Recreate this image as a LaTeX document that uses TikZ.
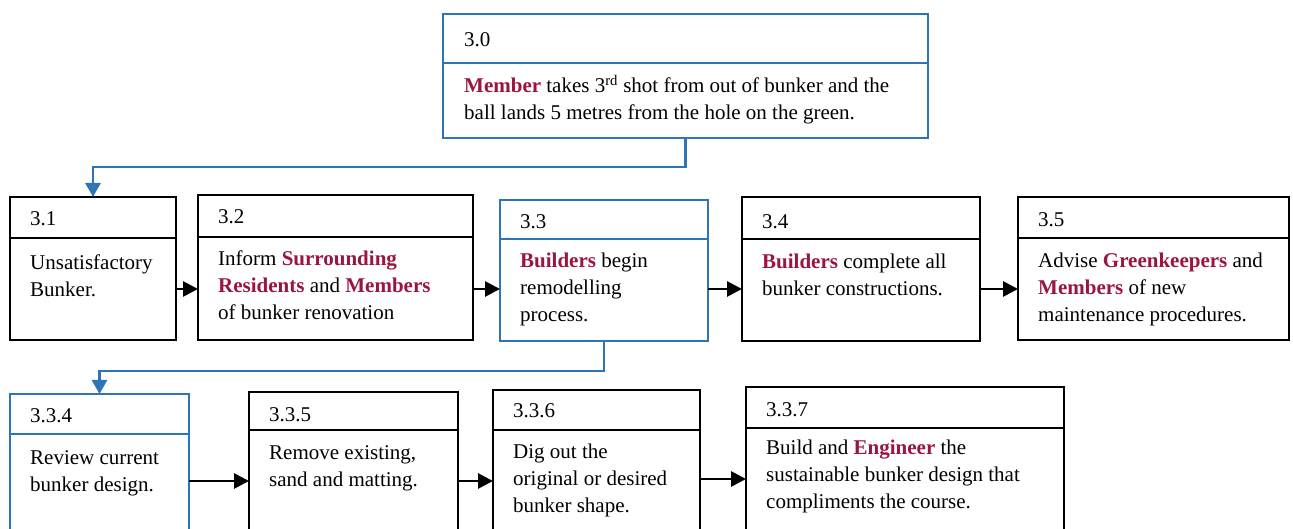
\documentclass[tikz,border=0pt]{standalone}
\usepackage{fontspec}
\setmainfont{Liberation Serif}
\usetikzlibrary{arrows.meta}
\definecolor{boxblue}{RGB}{46,117,182}
\definecolor{keyred}{RGB}{155,22,62}
\newcommand{\kw}[1]{\textcolor{keyred}{\textbf{#1}}}
\begin{document}
\begin{tikzpicture}[x=1pt,y=1pt,
  card/.style={draw=black,line width=1.3pt,rectangle,anchor=north west,outer sep=0pt,inner sep=0pt},
  bluecard/.style={card,draw=boxblue},
  divider/.style={line width=1.3pt},
  % multi-line labels are placed by the baseline of their last line
  label/.style={anchor=base west,inner sep=0pt,align=left,
    font=\fontsize{21}{27}\selectfont},
  flow/.style={line width=2.8pt,-{Triangle[length=15pt,width=15pt]}},
  drop/.style={draw=boxblue,line width=2.8pt,-{Triangle[length=14pt,width=15pt]}}]
\useasboundingbox (0,0) rectangle (1293,529);
\clip (0,0) rectangle (1293,529);

% ---- top box ----
\node[bluecard,minimum width=485pt,minimum height=124pt] (b30) at (443,515) {};
\draw[divider,draw=boxblue] (b30.west |- 0,466) -- (b30.east |- 0,466);
\node[label] (t30) at (464,482) {3.0};
\node[label] (d30) at (464,409) {\kw{Member} takes 3\textsuperscript{rd} shot from out of bunker and the\\ball lands 5 metres from the hole on the green.};

% ---- first row ----
\node[card,minimum width=166pt,minimum height=143pt] (b31) at (10,332) {};
\draw[divider] (b31.west |- 0,291) -- (b31.east |- 0,291);
\node[label] (t31) at (30,303) {3.1};
\node[label] (d31) at (30,232) {Unsatisfactory\\Bunker.};

\node[card,minimum width=275pt,minimum height=145pt] (b32) at (198,334) {};
\draw[divider] (b32.west |- 0,292) -- (b32.east |- 0,292);
\node[label] (t32) at (218,305) {3.2};
\node[label] (d32) at (218,209) {Inform \kw{Surrounding}\\\kw{Residents} and \kw{Members}\\of bunker renovation};

\node[bluecard,minimum width=208pt,minimum height=141pt] (b33) at (500,329) {};
\draw[divider,draw=boxblue] (b33.west |- 0,290) -- (b33.east |- 0,290);
\node[label] (t33) at (520,300) {3.3};
\node[label] (d33) at (520,207) {\kw{Builders} begin\\remodelling\\process.};

\node[card,minimum width=238pt,minimum height=144pt] (b34) at (742,332) {};
\draw[divider] (b34.west |- 0,290) -- (b34.east |- 0,290);
\node[label] (t34) at (762,300) {3.4};
\node[label] (d34) at (762,233) {\kw{Builders} complete all\\bunker constructions.};

\node[card,minimum width=271pt,minimum height=143pt] (b35) at (1018,332) {};
\draw[divider] (b35.west |- 0,291) -- (b35.east |- 0,291);
\node[label] (t35) at (1038,302) {3.5};
\node[label] (d35) at (1038,207) {Advise \kw{Greenkeepers} and\\\kw{Members} of new\\maintenance procedures.};

% ---- second row (runs past the lower edge) ----
\node[bluecard,minimum width=179pt,minimum height=180pt] (b334) at (10,135) {};
\draw[divider,draw=boxblue] (b334.west |- 0,95) -- (b334.east |- 0,95);
\node[label] (t334) at (30,106) {3.3.4};
\node[label] (d334) at (30,37) {Review current\\bunker design.};

\node[card,minimum width=209pt,minimum height=180pt] (b335) at (249,137) {};
\draw[divider] (b335.west |- 0,99) -- (b335.east |- 0,99);
\node[label] (t335) at (269,107) {3.3.5};
\node[label] (d335) at (269,42) {Remove existing,\\sand and matting.};

\node[card,minimum width=207pt,minimum height=180pt] (b336) at (493,139) {};
\draw[divider] (b336.west |- 0,99) -- (b336.east |- 0,99);
\node[label] (t336) at (513,111) {3.3.6};
\node[label] (d336) at (513,16) {Dig out the\\original or desired\\bunker shape.};

\node[card,minimum width=318pt,minimum height=180pt] (b337) at (746,142) {};
\draw[divider] (b337.west |- 0,101) -- (b337.east |- 0,101);
\node[label] (t337) at (766,112) {3.3.7};
\node[label] (d337) at (766,20) {Build and \kw{Engineer} the\\sustainable bunker design that\\compliments the course.};

% ---- blue drop connectors ----
\draw[drop] (b30.south) -- ++(0,-29) -| (b31.north);
\draw[drop] (b33.south) -- ++(0,-30) -| (b334.north);

% ---- black flow arrows ----
\draw[flow] (b31.east |- 0,240) -- (b32.west |- 0,240);
\draw[flow] (b32.east |- 0,240) -- (b33.west |- 0,240);
\draw[flow] (b33.east |- 0,240) -- (b34.west |- 0,240);
\draw[flow] (b34.east |- 0,240) -- (b35.west |- 0,240);
\draw[flow] (b334.east |- 0,48) -- (b335.west |- 0,48);
\draw[flow] (b335.east |- 0,48) -- (b336.west |- 0,48);
\draw[flow] (b336.east |- 0,50) -- (b337.west |- 0,50);
\end{tikzpicture}
\end{document}
